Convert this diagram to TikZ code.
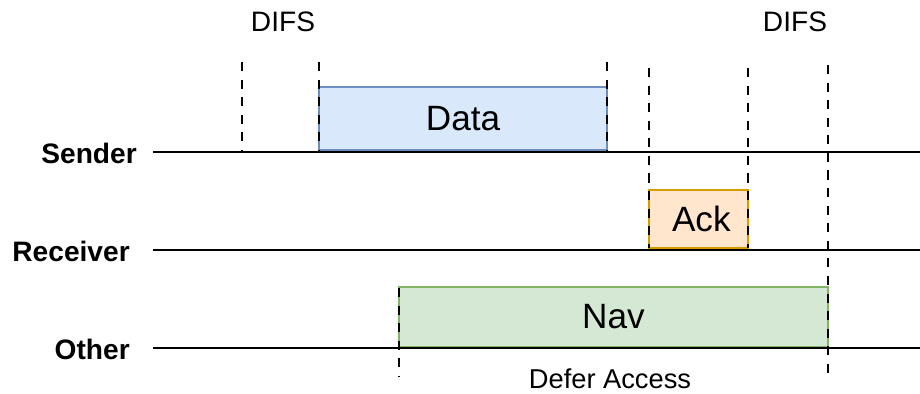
\documentclass[tikz,border=0pt]{standalone}
\usepackage{fontspec}
\setmainfont{Liberation Sans}
\definecolor{databg}{HTML}{DAE8FC}
\definecolor{dataline}{HTML}{6C8EBF}
\definecolor{ackbg}{HTML}{FFE6CC}
\definecolor{ackline}{HTML}{D79B00}
\definecolor{navbg}{HTML}{D5E8D4}
\definecolor{navline}{HTML}{82B366}
\tikzset{
  lanelabel/.style={anchor=east, inner sep=0pt, font=\bfseries\fontsize{20}{24}\selectfont},
  frame/.style={draw, line width=1.1pt, inner sep=0pt, font=\fontsize{25}{29}\selectfont},
  timeline/.style={line width=1.5pt},
  slot/.style={line width=2pt, dash pattern=on 6.5pt off 6pt},
  note/.style={font=\fontsize{20}{24}\selectfont},
}
\begin{document}
\begin{tikzpicture}[x=0.025cm, y=-0.025cm]
  \useasboundingbox (0,0) rectangle (920,394);

  % Stations
  \node[lanelabel] (sender) at (137,153) {Sender};
  \node[lanelabel] (receiver) at (130,251) {Receiver};
  \node[lanelabel] (other) at (130,349) {Other};

  % Frames
  \node[frame, fill=databg, draw=dataline, minimum width=7.2cm, minimum height=1.575cm] (data) at (463,118.5) {Data};
  \node[frame, fill=ackbg, draw=ackline, minimum width=2.475cm, minimum height=1.45cm] (ack) at (698.5,219) {\hspace{4pt}Ack};
  \node[frame, fill=navbg, draw=navline, minimum width=10.725cm, minimum height=1.5cm] (nav) at (613.5,317) {Nav};

  % Time lines
  \draw[timeline] (153,152) -- (920,152);
  \draw[timeline] (153,250) -- (920,250);
  \draw[timeline] (153,348) -- (920,348);

  % Slot boundaries
  \foreach \x in {242,319,607}
    \draw[slot] (\x,62) -- (\x,150);
  \foreach \x in {649,748}
    \draw[slot] (\x,68) -- (\x,248);
  \draw[slot] (828,65) -- (828,376);
  \draw[slot] (399,288) -- (399,377);

  % Labels
  \node[note] (difsa) at (283,22) {DIFS};
  \node[note] (difsb) at (795,22) {DIFS};
  \node[note, font=\fontsize{19.4}{23}\selectfont] (defer) at (610,379) {Defer Access};
\end{tikzpicture}
\end{document}
